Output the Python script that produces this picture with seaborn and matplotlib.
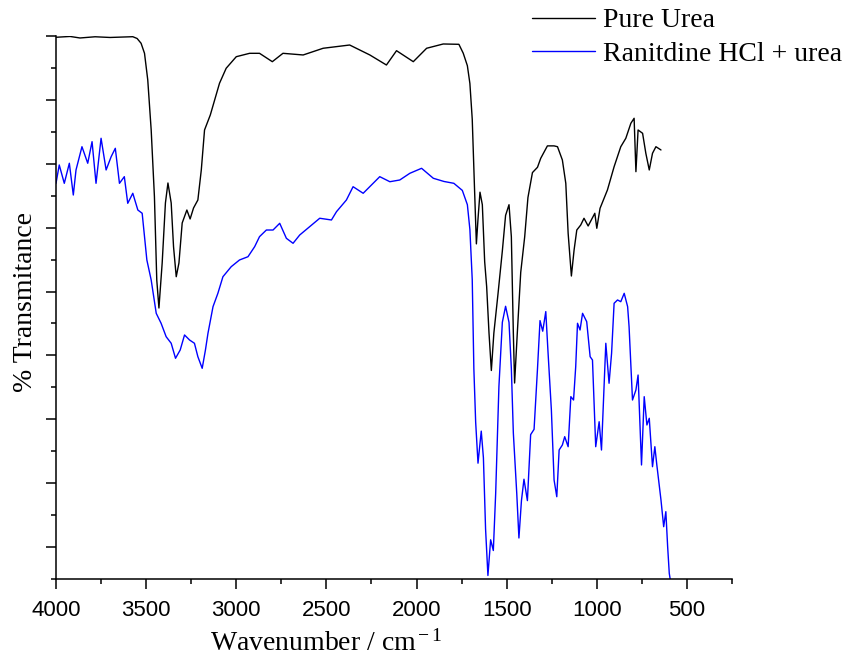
import pandas as pd
import numpy as np
import matplotlib
matplotlib.use('Agg')
import matplotlib.pyplot as plt
import seaborn as sns

# Pure urea spectrum (wavenumber cm-1, transmittance a.u.)
urea_wn = [4000, 3922, 3867, 3783, 3700, 3617, 3574, 3550, 3528, 3509, 3491, 3472,
           3454, 3441, 3429, 3411, 3393, 3379, 3361, 3348, 3333, 3318, 3300, 3274,
           3256, 3237, 3213, 3194, 3176, 3144, 3093, 3056, 3000, 2926, 2871, 2800,
           2741, 2629, 2518, 2371, 2259, 2167, 2111, 2018, 1944, 1852, 1765, 1741,
           1718, 1704, 1691, 1678, 1668, 1659, 1648, 1635, 1622, 1611, 1598, 1585,
           1571, 1548, 1524, 1506, 1487, 1474, 1463, 1456, 1441, 1422, 1400, 1382,
           1357, 1329, 1311, 1274, 1237, 1218, 1191, 1172, 1159, 1141, 1126, 1111,
           1089, 1071, 1048, 1011, 1000, 982, 941, 904, 867, 839, 811, 793, 783,
           771, 746, 728, 709, 691, 672, 644]
urea_t = [84.80, 84.93, 84.69, 84.88, 84.77, 84.85, 84.89, 84.61, 83.86, 82.29, 78.12, 70.29,
          59.85, 46.81, 42.42, 49.47, 58.86, 61.99, 58.86, 52.02, 47.32, 49.47, 55.73, 57.76,
          56.36, 58.08, 59.33, 64.03, 70.29, 72.64, 77.60, 79.95, 81.76, 82.29, 82.29, 80.98,
          82.29, 82.03, 83.08, 83.59, 82.03, 80.46, 82.70, 80.98, 83.08, 83.75, 83.70, 82.31,
          80.35, 77.57, 71.99, 60.83, 52.46, 56.36, 60.55, 58.59, 49.67, 45.76, 38.51, 32.64,
          38.51, 44.65, 51.35, 56.92, 58.59, 53.57, 38.51, 30.68, 38.51, 48.00, 53.57, 59.71,
          63.62, 64.45, 65.86, 67.80, 67.80, 67.67, 65.59, 61.94, 54.12, 47.43, 51.50, 54.63,
          55.42, 56.47, 55.26, 57.25, 54.90, 58.03, 60.90, 64.54, 67.67, 68.99, 71.34, 72.12, 63.76,
          70.29, 69.77, 66.64, 64.03, 66.64, 67.67, 67.16]

# Ranitidine HCl + urea spectrum
mix_wn = [4000, 3982, 3954, 3926, 3904, 3889, 3856, 3824, 3800, 3778, 3750, 3722,
          3694, 3671, 3648, 3621, 3602, 3574, 3546, 3522, 3509, 3496, 3472, 3444,
          3417, 3389, 3361, 3337, 3311, 3287, 3259, 3232, 3213, 3189, 3171, 3157,
          3129, 3102, 3074, 3028, 2982, 2935, 2898, 2871, 2833, 2796, 2759, 2722,
          2685, 2648, 2593, 2537, 2472, 2444, 2389, 2352, 2296, 2250, 2204, 2148,
          2093, 2037, 1972, 1907, 1848, 1793, 1746, 1718, 1704, 1691, 1682, 1672,
          1659, 1641, 1629, 1617, 1604, 1589, 1574, 1561, 1543, 1524, 1506, 1487,
          1474, 1463, 1444, 1432, 1418, 1404, 1385, 1367, 1348, 1329, 1315, 1300,
          1283, 1271, 1252, 1237, 1222, 1209, 1191, 1178, 1159, 1144, 1129, 1117,
          1107, 1093, 1079, 1056, 1037, 1024, 1006, 987, 974, 963, 950, 932,
          918, 904, 885, 867, 848, 829, 821, 802, 783, 771, 752, 737,
          722, 709, 691, 678, 667, 644, 629, 617, 607, 598, 593]
mix_t = [61.94, 64.81, 61.94, 65.08, 60.11, 64.03, 67.67, 65.08, 68.46, 61.94, 68.99, 64.03,
         66.11, 67.42, 61.94, 62.98, 58.81, 60.38, 57.76, 57.25, 53.59, 49.94, 46.81, 41.59,
         40.03, 37.93, 36.90, 34.55, 35.85, 38.20, 37.41, 36.90, 34.80, 32.98, 35.85, 38.46,
         42.63, 44.72, 47.32, 48.89, 49.94, 50.45, 52.02, 53.59, 54.63, 54.63, 55.68, 53.33,
         52.55, 53.85, 55.15, 56.47, 56.20, 57.50, 59.33, 61.41, 60.38, 61.68, 62.98, 62.19,
         62.46, 63.51, 64.29, 62.73, 62.23, 61.94, 60.83, 58.59, 54.70, 46.87, 32.92, 24.55,
         18.13, 23.15, 18.97, 7.81, 0.55, 6.14, 4.46, 13.38, 30.13, 40.18, 42.69, 40.18,
         32.92, 22.87, 13.38, 6.42, 12.27, 15.62, 12.27, 22.60, 23.43, 32.92, 40.45, 38.79,
         41.86, 35.71, 26.46, 15.50, 12.88, 20.19, 20.98, 22.28, 20.71, 28.54, 28.02, 33.23,
         40.03, 38.98, 41.59, 40.28, 34.80, 34.28, 20.71, 24.62, 20.19, 28.02, 36.90, 30.64,
         35.33, 43.16, 43.68, 43.41, 44.72, 42.63, 39.50, 28.02, 29.59, 31.93, 17.85, 28.54,
         24.11, 25.16, 17.58, 20.71, 17.85, 12.37, 8.19, 10.54, 5.06, 0.89, 0.0]

labels = ['Pure Urea', 'Ranitdine HCl + urea']
colors = ['black', 'blue']

df = pd.concat([
    pd.DataFrame({'wn': urea_wn, 'T': urea_t, 'sample': labels[0]}),
    pd.DataFrame({'wn': mix_wn, 'T': mix_t, 'sample': labels[1]}),
])

sns.set_style('ticks')
plt.rcParams['font.family'] = ['Liberation Serif', 'DejaVu Serif']
plt.rcParams['mathtext.fontset'] = 'custom'
plt.rcParams['mathtext.rm'] = 'Liberation Serif'
plt.rcParams['mathtext.it'] = 'Liberation Serif:italic'
plt.rcParams['text.color'] = 'black'
plt.rcParams['axes.labelcolor'] = 'black'

fig = plt.figure(figsize=(8.52, 6.59), dpi=100)
ax = fig.add_axes([56 / 852, 80 / 659, 676 / 852, 543 / 659])

sns.lineplot(data=df, x='wn', y='T', hue='sample', palette=dict(zip(labels, colors)),
             estimator=None, sort=False, linewidth=1.0, ax=ax)

ax.set_xlim(4000, 250)
ax.set_ylim(0, 85)
ax.set_xticks(np.arange(4000, 499, -500))
ax.set_xticks(np.arange(3750, 249, -500), minor=True)
ax.set_yticks(np.arange(5, 86, 10))
ax.set_yticks(np.arange(0, 81, 10), minor=True)
ax.set_yticklabels([])
for lab in ax.get_xticklabels():
    lab.set_fontfamily(['Liberation Sans', 'DejaVu Sans'])
    lab.set_fontsize(16)
    lab.set_color('black')
ax.tick_params(which='major', length=7, width=1.1, direction='out', pad=8, colors='black')
ax.tick_params(which='minor', length=3.5, width=1.1, direction='out', colors='black')
sns.despine(ax=ax)
for s in ['left', 'bottom']:
    ax.spines[s].set_linewidth(1.1)
    ax.spines[s].set_color('black')

ax.set_xlabel('Wavenumber / cm$^{\\rm -1}$', fontsize=20)
ax.set_ylabel('% Transmitance', fontsize=20)
ax.xaxis.set_label_coords(0.40, -0.095)
ax.yaxis.set_label_coords(-0.026, 0.51)

handles, _ = ax.get_legend_handles_labels()
ax.legend(handles=handles, labels=labels, loc='upper left', frameon=False,
          bbox_to_anchor=(532 / 852, 1 - 8 / 659), bbox_transform=fig.transFigure,
          fontsize=20, handlelength=2.25, handletextpad=0.3, labelspacing=0.28,
          borderpad=0.0, borderaxespad=0.0)

plt.savefig('out.png', dpi=100)
